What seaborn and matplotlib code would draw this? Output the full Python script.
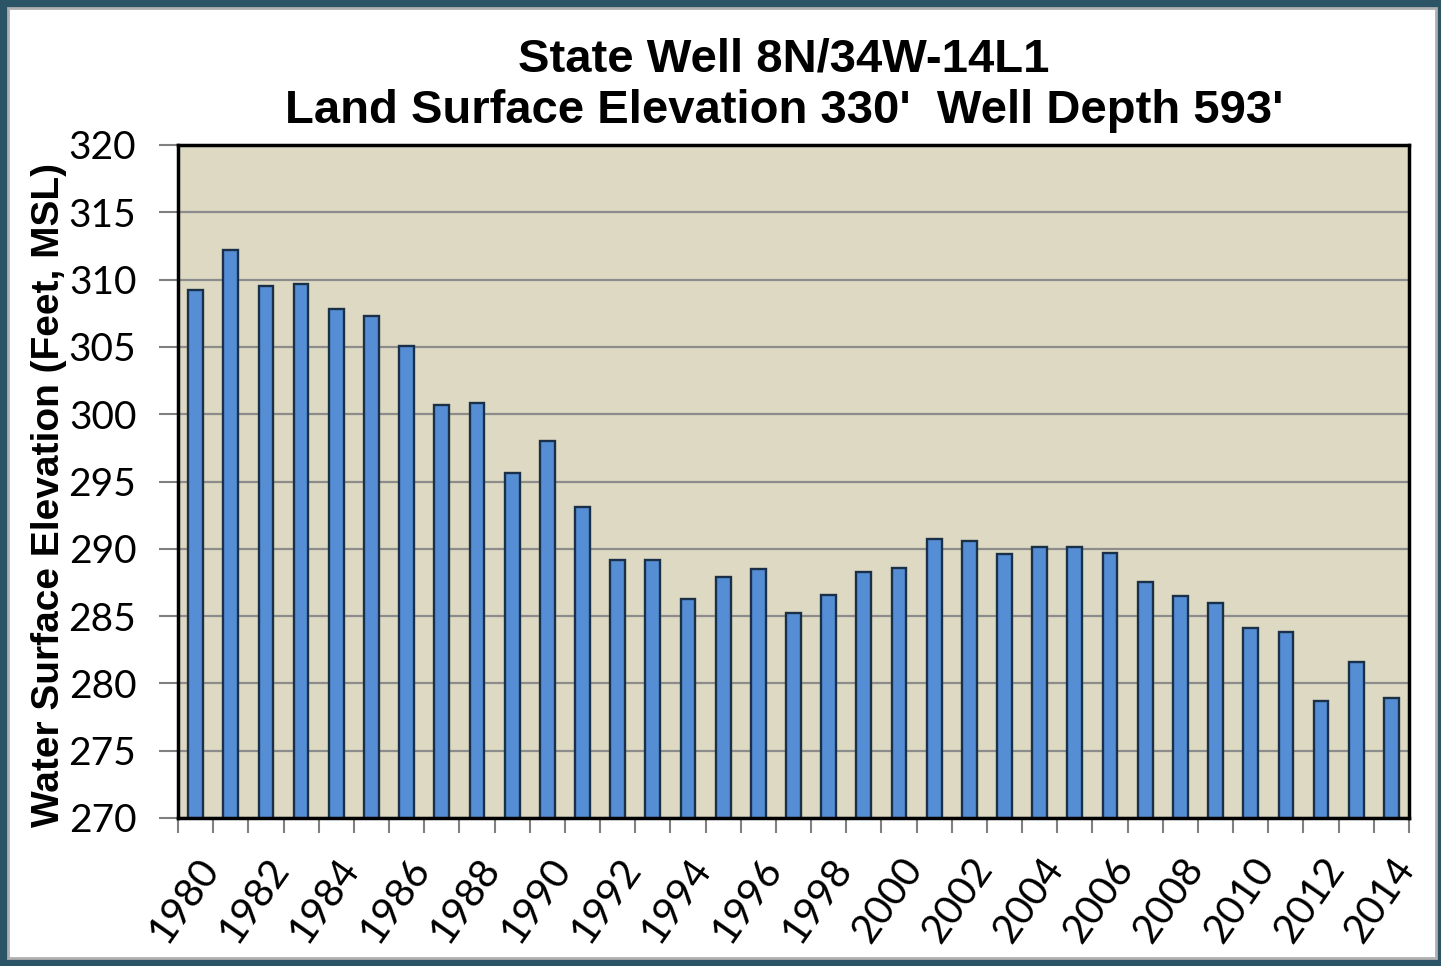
"""
Bar chart of yearly water surface elevation for State Well 8N/34W-14L1.

Output:
    out.png
"""
import matplotlib
matplotlib.use("Agg")
import matplotlib.pyplot as plt
from matplotlib.patches import Rectangle
from matplotlib.ticker import FixedLocator
import pandas as pd
import seaborn as sns

years = list(range(1980, 2015))
elevation = [
    309.2, 312.2, 309.5, 309.7, 307.8, 307.3, 305.1, 300.7, 300.8, 295.6,
    298.0, 293.1, 289.2, 289.2, 286.3, 287.9, 288.5, 285.2, 286.6, 288.3,
    288.6, 290.7, 290.6, 289.6, 290.1, 290.1, 289.7, 287.5, 286.5, 286.0,
    284.1, 283.8, 278.7, 281.6, 278.9,
]
y_ticks = list(range(270, 321, 5))
title_lines = ["State Well 8N/34W-14L1", "Land Surface Elevation 330'  Well Depth 593'"]
y_label = "Water Surface Elevation (Feet, MSL)"


def run():
    sns.set_theme(style="white")
    plt.rcParams["font.family"] = ["Liberation Sans", "DejaVu Sans"]
    plt.rcParams["text.color"] = "black"
    plt.rcParams["axes.labelcolor"] = "black"
    plt.rcParams["xtick.color"] = "black"
    plt.rcParams["ytick.color"] = "black"

    df = pd.DataFrame({"year": [str(y) for y in years], "elev": elevation})

    fig = plt.figure(figsize=(14.41, 9.66), dpi=100)
    fig.patch.set_facecolor("#2b5466")
    fig.patches.append(Rectangle((8 / 1441, 8 / 966), 1428 / 1441, 950 / 966,
                                 transform=fig.transFigure, facecolor="white",
                                 edgecolor="#b0b0b0", linewidth=2, zorder=-5))

    ax = fig.add_axes([178 / 1441, 1 - 818 / 966, (1409 - 178) / 1441, (818 - 145) / 966])
    ax.set_zorder(1)
    ax.set_facecolor("#ddd9c3")

    sns.barplot(data=df, x="year", y="elev", ax=ax, color="#558ed5",
                width=0.42, edgecolor="#1a3048", linewidth=1.7, saturation=1)

    ax.set_ylim(270, 320)
    ax.set_xlim(-0.5, len(years) - 0.5)
    ax.set_yticks(y_ticks)
    ax.yaxis.grid(True, color="#8c8c8c", linewidth=1.6)
    ax.set_axisbelow(True)

    # labels on every other year, tick marks at category boundaries
    pos = list(range(0, len(years), 2))
    ax.set_xticks(pos)
    ax.set_xticklabels([str(years[i]) for i in pos], rotation=55, ha="right",
                       rotation_mode="anchor", fontfamily="Lato", fontsize=29)
    ax.xaxis.set_minor_locator(FixedLocator([i - 0.5 for i in range(len(years) + 1)]))
    ax.tick_params(axis="x", which="major", length=0, pad=24)
    ax.tick_params(axis="x", which="minor", length=11, width=1.5, color="#808080",
                   direction="out", bottom=True)
    ax.tick_params(axis="y", length=14, width=1.5, color="#808080", direction="out",
                   left=True, pad=16)
    for lbl in ax.get_yticklabels():
        lbl.set_fontfamily("Lato")
        lbl.set_fontsize(28)

    for side in ["left", "bottom", "top", "right"]:
        ax.spines[side].set_visible(True)
        ax.spines[side].set_color("black")
        ax.spines[side].set_linewidth(2.5)

    ax.set_xlabel("")
    ax.set_ylabel(y_label, fontsize=28, fontweight="bold")
    ax.yaxis.set_label_coords(-0.09, 0.48)

    fig.text(0.544, 1 - 60 / 966, title_lines[0], ha="center", va="center",
             fontsize=34, fontweight="bold")
    fig.text(0.544, 1 - 111 / 966, title_lines[1], ha="center", va="center",
             fontsize=34, fontweight="bold")

    fig.savefig("out.png", dpi=100, facecolor=fig.get_facecolor())
    plt.close(fig)


if __name__ == "__main__":
    run()
